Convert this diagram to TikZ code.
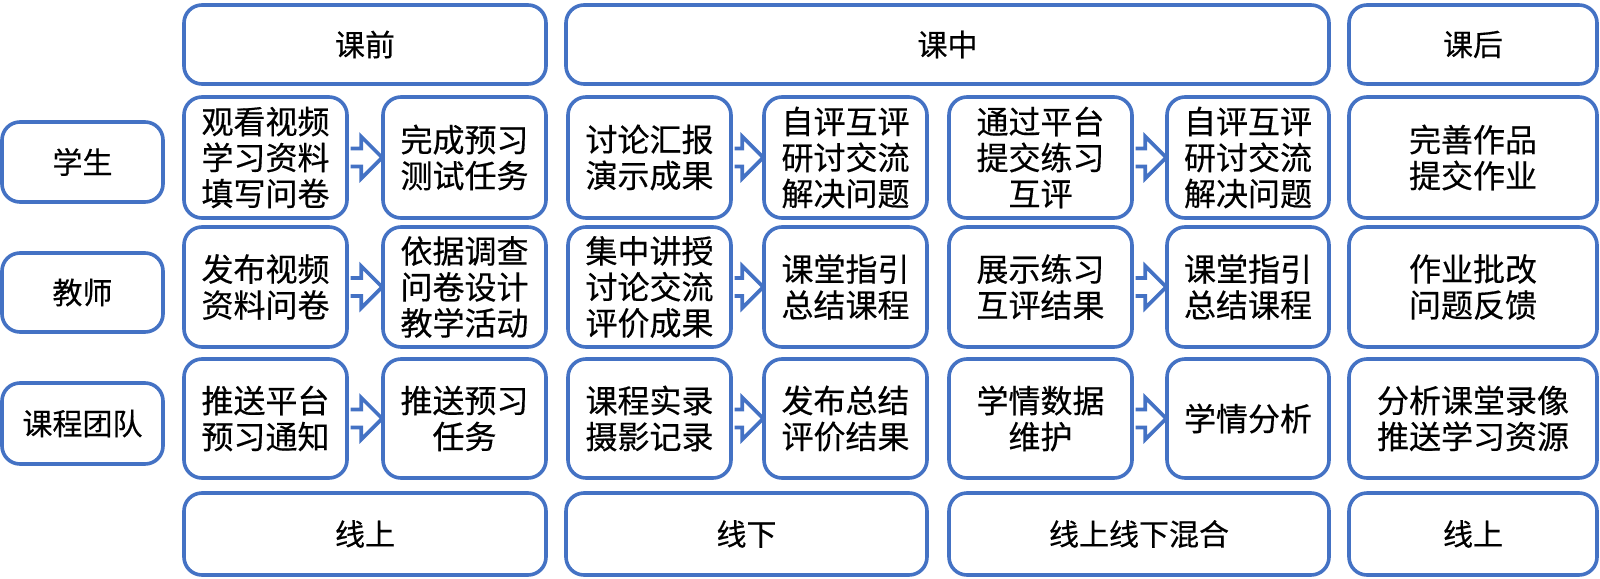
\documentclass[tikz,border=0pt]{standalone}
\usepackage{fontspec}
\setmainfont{Noto Sans CJK SC}[FakeBold=0.4]
\usetikzlibrary{calc}
\definecolor{bl}{RGB}{68,114,196}
\newcommand\bx[7]{\node[#6,minimum width={(#4-#2)*0.5pt},minimum height={(#5-#3)*0.5pt}] (#1) at ({(#2+#4)/2},{(#3+#5)/2}) {#7};}
\newcommand\barrow[2]{\draw[arr] ($(#1.east)+(1.8,9)$) -- ($(#2.west)+(-20,9)$) -- ($(#2.west)+(-20,21)$) -- ($(#2.west)+(1,0)$) -- ($(#2.west)+(-20,-21)$) -- ($(#2.west)+(-20,-9)$) -- ($(#1.east)+(1.8,-9)$);}
\begin{document}
\begin{tikzpicture}[x=0.5pt,y=-0.5pt,
  base/.style={draw=bl,line width=1.8pt,rounded corners=9pt,fill=white,inner sep=0pt,align=center,text=black},
  hd/.style={base,font=\fontsize{15}{18}\selectfont},
  ct/.style={base,font=\fontsize{16}{18}\selectfont},
  arr/.style={draw=bl,line width=1.8pt,fill=white,line join=miter}]
\useasboundingbox (0,0) rectangle (1600,578);
% headers
\bx{h1}{184}{5}{546}{84}{hd}{课前}
\bx{h2}{566}{5}{1329}{84}{hd}{课中}
\bx{h3}{1349}{5}{1597}{84}{hd}{课后}
% row labels
\bx{l1}{2}{122}{163}{202}{hd}{学生}
\bx{l2}{2}{253}{163}{332}{hd}{教师}
\bx{l3}{2}{383}{163}{464}{hd}{课程团队}
% row 1
\bx{a1}{184}{97}{347}{218}{ct}{观看视频\\学习资料\\填写问卷}
\bx{a2}{383}{97}{546}{218}{ct}{完成预习\\测试任务}
\bx{a3}{568}{97}{731}{218}{ct}{讨论汇报\\演示成果}
\bx{a4}{764}{97}{927}{218}{ct}{自评互评\\研讨交流\\解决问题}
\bx{a5}{949}{97}{1132}{218}{ct}{通过平台\\提交练习\\互评}
\bx{a6}{1167}{97}{1329}{218}{ct}{自评互评\\研讨交流\\解决问题}
\bx{a7}{1349}{97}{1597}{218}{ct}{完善作品\\提交作业}
% row 2
\bx{b1}{184}{227}{347}{347}{ct}{发布视频\\资料问卷}
\bx{b2}{383}{227}{546}{347}{ct}{依据调查\\问卷设计\\教学活动}
\bx{b3}{568}{227}{731}{347}{ct}{集中讲授\\讨论交流\\评价成果}
\bx{b4}{764}{227}{927}{347}{ct}{课堂指引\\总结课程}
\bx{b5}{949}{227}{1132}{347}{ct}{展示练习\\互评结果}
\bx{b6}{1167}{227}{1329}{347}{ct}{课堂指引\\总结课程}
\bx{b7}{1349}{227}{1597}{347}{ct}{作业批改\\问题反馈}
% row 3
\bx{c1}{184}{359}{347}{478}{ct}{推送平台\\预习通知}
\bx{c2}{383}{359}{546}{478}{ct}{推送预习\\任务}
\bx{c3}{568}{359}{731}{478}{ct}{课程实录\\摄影记录}
\bx{c4}{764}{359}{927}{478}{ct}{发布总结\\评价结果}
\bx{c5}{949}{359}{1132}{478}{ct}{学情数据\\维护}
\bx{c6}{1167}{359}{1329}{478}{ct}{学情分析}
\bx{c7}{1349}{359}{1597}{478}{ct}{分析课堂录像\\推送学习资源}
% bottom
\bx{f1}{184}{493}{546}{575}{hd}{线上}
\bx{f2}{566}{493}{927}{575}{hd}{线下}
\bx{f3}{949}{493}{1329}{575}{hd}{线上线下混合}
\bx{f4}{1349}{493}{1597}{575}{hd}{线上}
% arrows
\barrow{a1}{a2}\barrow{a3}{a4}\barrow{a5}{a6}
\barrow{b1}{b2}\barrow{b3}{b4}\barrow{b5}{b6}
\barrow{c1}{c2}\barrow{c3}{c4}\barrow{c5}{c6}
\end{tikzpicture}
\end{document}
